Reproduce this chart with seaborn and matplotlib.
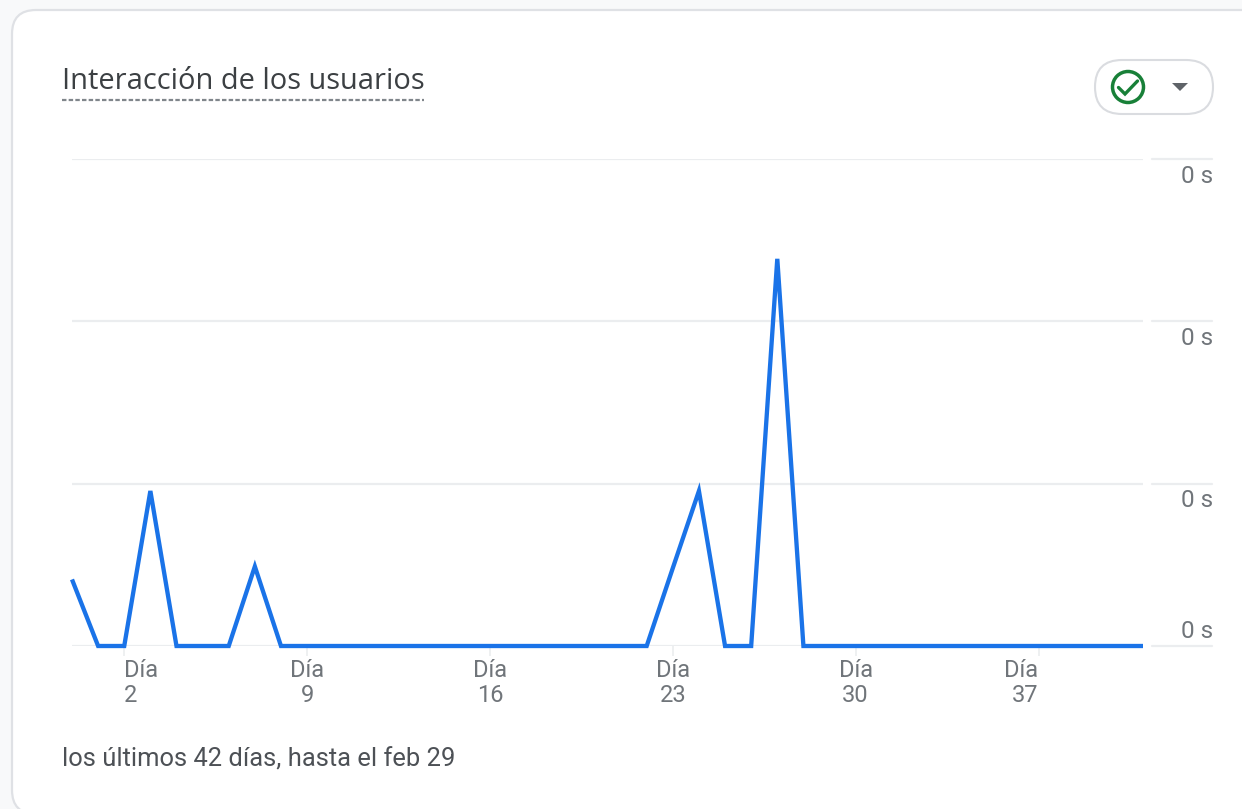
import matplotlib
matplotlib.use("Agg")
import matplotlib.pyplot as plt
import matplotlib.transforms as mtrans
from matplotlib.patches import FancyBboxPatch, Circle, Polygon
import seaborn as sns
import pandas as pd

days = list(range(42))
engagement = [0.41, 0, 0, 0.955, 0, 0, 0, 0.49, 0, 0,
              0, 0, 0, 0, 0, 0, 0, 0, 0, 0,
              0, 0, 0, 0.48, 0.955, 0, 0, 2.385, 0, 0,
              0, 0, 0, 0, 0, 0, 0, 0, 0, 0,
              0, 0]
y_ticks = [0, 1, 2, 3]
y_labels = ["0 s", "0 s", "0 s", "0 s"]
x_ticks = [2, 9, 16, 23, 30, 37]
x_labels = ["Día\n2", "Día\n9", "Día\n16", "Día\n23", "Día\n30", "Día\n37"]

title = "Interacción de los usuarios"
footer = "los últimos 42 días, hasta el feb 29"

W, H = 1242, 809
grid_col = "#ebedef"
text_col = "#70757a"

sns.set_theme(style="white")
plt.rcParams["font.family"] = ["Roboto", "DejaVu Sans"]

fig = plt.figure(figsize=(W / 100, H / 100), dpi=100, facecolor="#f8f9fa")

# fondo y elementos de la tarjeta, en pixeles
bg = fig.add_axes([0, 0, 1, 1], zorder=0)
bg.set_xlim(0, W)
bg.set_ylim(H, 0)
bg.axis("off")
bg.add_patch(FancyBboxPatch((12, 10), 1400, 804, boxstyle="round,pad=0,rounding_size=24",
                            fc="white", ec="#dfe1e5", lw=1.6))
bg.text(62, 89, title, fontsize=20.9, color="#3c4043", family="Open Sans", va="baseline", ha="left")
bg.plot([62, 424], [99.5, 99.5], color="#80868b", lw=1.6, dashes=(2, 1))
bg.text(62, 766, footer, fontsize=18.4, color="#4d5156", va="baseline", ha="left")

bg.add_patch(FancyBboxPatch((1095, 60), 118, 54, boxstyle="round,pad=0,rounding_size=27",
                            fc="white", ec="#dadce0", lw=1.5))
bg.add_patch(Circle((1128, 87), 15.5, fc="none", ec="#188038", lw=2.5))
bg.plot([1118.5, 1125, 1137.5], [87.5, 94, 81], color="#188038", lw=2.4, solid_joinstyle="miter")
bg.add_patch(Polygon([[1172, 83], [1188, 83], [1180, 91]], fc="#5f6368", ec="none"))

# grafica
ax = fig.add_axes([72 / W, 1 - 646 / H, (1143 - 72) / W, (646 - 159) / H], zorder=1)
ax.patch.set_alpha(0)
df = pd.DataFrame({"dia": days, "valor": engagement})
sns.lineplot(data=df, x="dia", y="valor", ax=ax, color="#1a73e8", lw=3.1, zorder=5, clip_on=False)
for line in ax.get_lines():
    line.set_solid_joinstyle("miter")
    line.set_solid_capstyle("butt")

ax.set_xlim(0, 41)
ax.set_ylim(0, 3)
ax.set_xlabel("")
ax.set_ylabel("")
sns.despine(ax=ax, left=True, bottom=True, top=True, right=True)

ax.set_yticks(y_ticks)
ax.tick_params(axis="y", left=False, labelleft=False)
ax.grid(axis="y", color=grid_col, lw=1.6)
ax.grid(axis="x", visible=False)

ax.set_xticks(x_ticks)
ax.set_xticklabels(x_labels, fontsize=17, color=text_col, linespacing=1.08)
ax.tick_params(axis="x", bottom=True, length=7, width=1.2, color=grid_col, pad=2.5)
tick_labels = ax.get_xticklabels()
tick_labels[0].set_ha("left")
tick_labels[0].set_multialignment("left")
tick_labels[-1].set_ha("right")
tick_labels[-1].set_multialignment("right")
for lab in tick_labels[1:-1]:
    lab.set_multialignment("center")

# tramo derecho de cada linea y su etiqueta
right_tr = mtrans.blended_transform_factory(ax.transAxes, ax.transData)
x0 = (1152 - 72) / (1143 - 72)
x1 = (1212 - 72) / (1143 - 72)
x2 = (1213 - 72) / (1143 - 72)
for val, lab in zip(y_ticks, y_labels):
    ax.plot([x0, x1], [val, val], transform=right_tr, color=grid_col, lw=1.6, clip_on=False)
    offset = 15 if val == 0 else -17
    ax.annotate(lab, xy=(x2, val), xycoords=right_tr, xytext=(0, offset), textcoords="offset pixels",
                ha="right", va="center", fontsize=17.5, color=text_col, annotation_clip=False)

fig.savefig("out.png", dpi=100, facecolor=fig.get_facecolor())
